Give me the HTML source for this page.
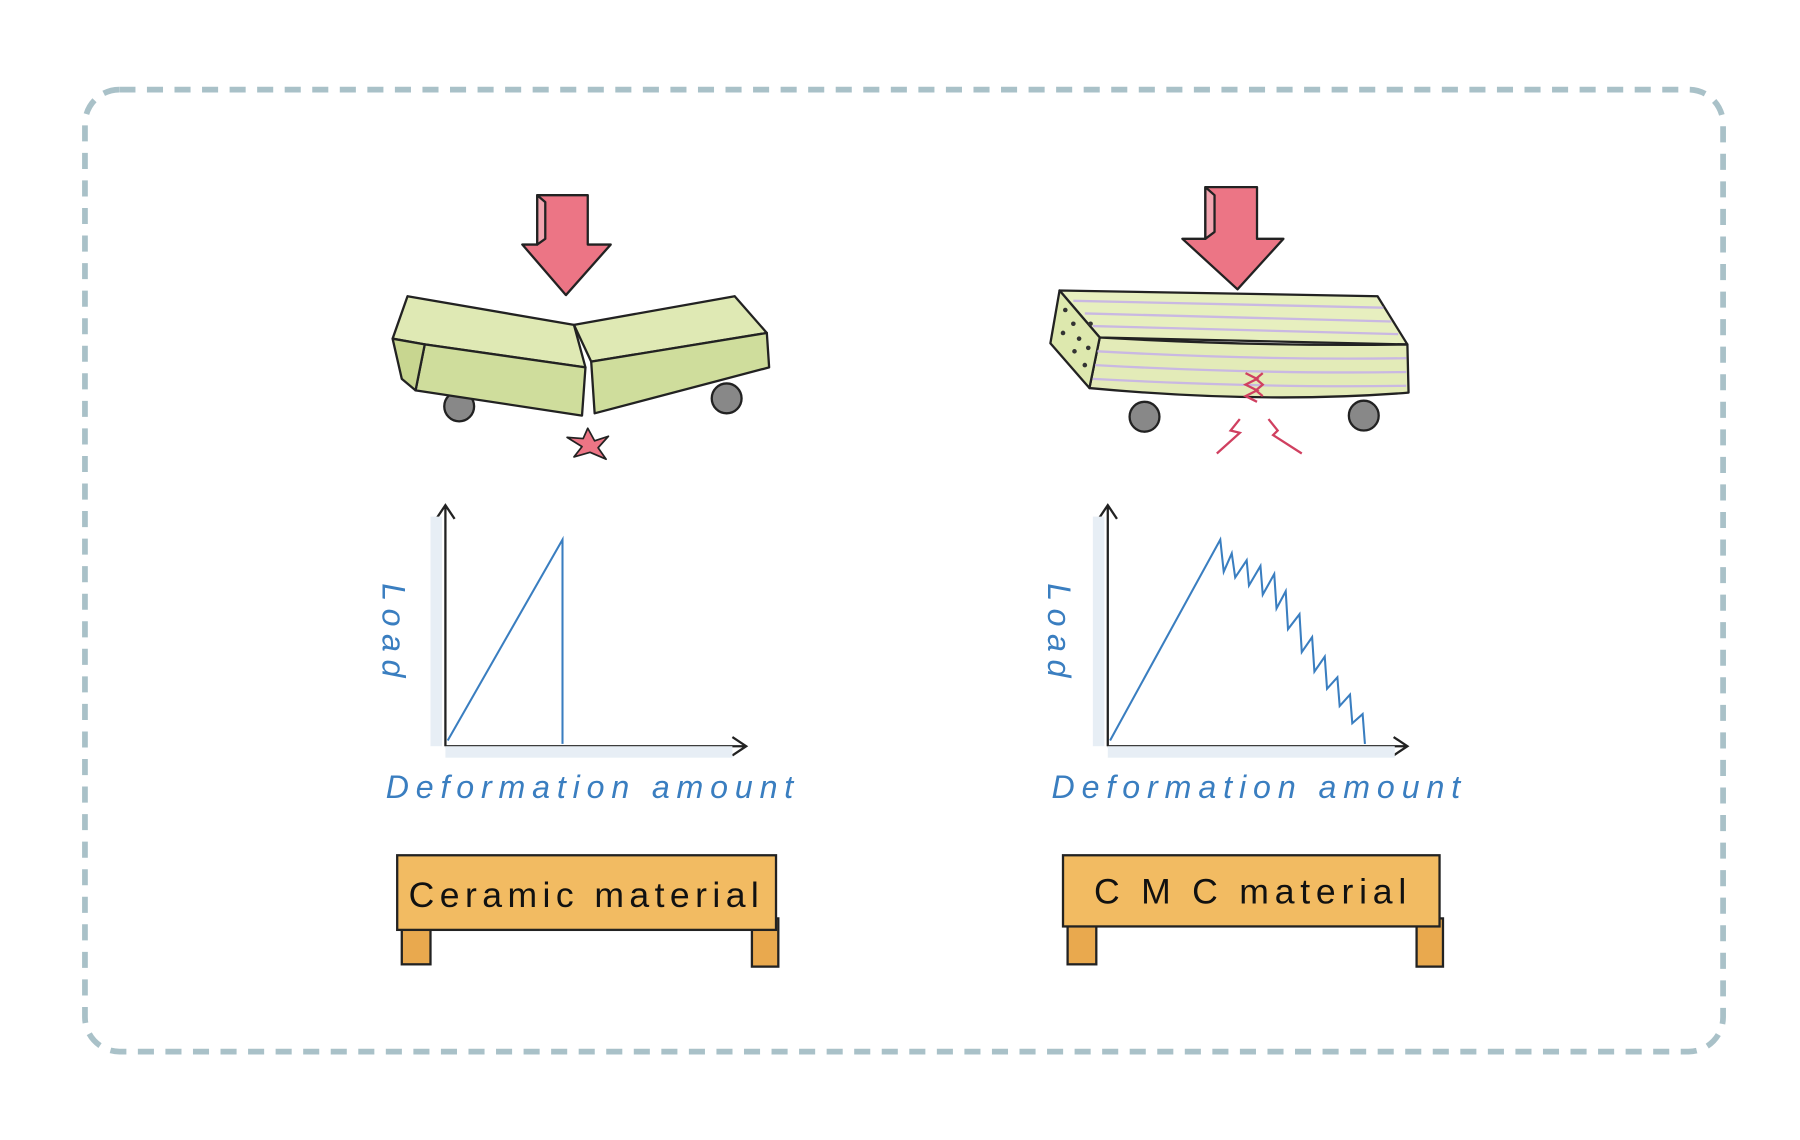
<!DOCTYPE html>
<html><head><style>
html,body{margin:0;padding:0;background:#fff;width:1800px;height:1140px;overflow:hidden}
svg text{font-family:"Liberation Sans",sans-serif}
</style></head><body>
<svg width="1800" height="1140" viewBox="0 0 1568 993" xmlns="http://www.w3.org/2000/svg">
<rect x="74" y="78" width="1427" height="838" rx="30" fill="none" stroke="#a9c1c8" stroke-width="5" stroke-dasharray="14 10"/>
<g stroke="#222" stroke-width="2" stroke-linejoin="round">
<!-- left arrow -->
<polygon points="468,170 512,170 512,213 532,213 493,257 455,213 468,213" fill="#ec7585"/>
<polygon points="468,170 475,176 475,208 468,213" fill="#f2a5b0"/>
<!-- left beam -->
<circle cx="400" cy="354" r="13" fill="#888"/>
<circle cx="633" cy="347" r="13" fill="#888"/>
<polygon points="355,258 500,283 510,320 370,300 342,295" fill="#dfe9b4"/>
<polygon points="370,300 510,320 507,362 362,340" fill="#cfdd9c"/>
<polygon points="342,295 370,300 362,340 350,330" fill="#c8d690"/>
<polygon points="500,283 640,258 668,290 515,315" fill="#dfe9b4"/>
<polygon points="515,315 668,290 670,320 518,360" fill="#cfdd9c"/>
<polygon points="512,373 518,384 530,380 521,390 528,400 514,394 500,398 507,389 494,381 508,382" fill="#ec7585" stroke-width="1.5"/>
<!-- right arrow -->
<polygon points="1050,163 1095,163 1095,208 1118,208 1078,252 1030,208 1050,208" fill="#ec7585"/>
<polygon points="1050,163 1058,170 1058,202 1050,208" fill="#f2a5b0"/>
<!-- right beam -->
<circle cx="997" cy="363" r="13" fill="#888"/>
<circle cx="1188" cy="362" r="13" fill="#888"/>
<polygon points="923,253 1200,258 1226,300 958,294" fill="#e7efbf"/>
<path d="M958,294 Q1100,302 1226,300 L1227,342 Q1100,352 949,338 Z" fill="#e3ebb8"/>
<polygon points="923,253 958,294 949,338 915,299" fill="#dde8ae"/>
</g>
<g stroke="#c9b8e2" stroke-width="2" fill="none">
<path d="M956,306 Q1100,314 1225,312 M954,318 Q1100,326 1225,324 M952,330 Q1100,338 1225,336 M935,262 L1205,268 M945,273 L1212,280 M952,284 L1218,291"/>
</g>
<g fill="#333">
<circle cx="928" cy="270" r="2"/><circle cx="935" cy="282" r="2"/><circle cx="926" cy="290" r="2"/><circle cx="940" cy="295" r="2"/><circle cx="948" cy="303" r="2"/><circle cx="936" cy="306" r="2"/><circle cx="945" cy="318" r="2"/><circle cx="950" cy="282" r="2"/>
</g>
<g fill="none" stroke="#d04060" stroke-width="2">
<path d="M1085,325 l10,5 -10,5 10,5 -10,5 10,5 M1100,325 l-6,5 6,5 -6,5 6,5"/>
<path d="M1080,365 l-8,10 8,2 -20,18 M1105,365 l8,10 -4,4 25,16"/>
</g>
<!-- charts -->
<g stroke="#222" stroke-width="2" fill="none">
<path d="M388,650 V440 M380,452 L388,440 396,452 M388,650 H650 M638,642 L650,650 638,658"/>
<path d="M965,650 V440 M957,452 L965,440 973,452 M965,650 H1226 M1214,642 L1226,650 1214,658"/>
</g>
<rect x="375" y="450" width="10" height="200" fill="#e7eef5"/>
<rect x="388" y="650" width="250" height="10" fill="#e7eef5"/>
<rect x="952" y="450" width="10" height="200" fill="#e7eef5"/>
<rect x="965" y="650" width="250" height="10" fill="#e7eef5"/>
<g stroke="#3a7ec0" stroke-width="1.8" fill="none">
<path d="M390,645 L490,470 L490,648"/>
<path d="M967,645 L1063,470 L1066,498 L1073,482 L1076,503 L1086,488 L1088,510 L1098,493 L1100,518 L1110,500 L1112,530 L1120,515 L1122,548 L1132,535 L1134,568 L1143,555 L1145,585 L1154,572 L1156,600 L1165,590 L1167,615 L1176,605 L1178,630 L1187,622 L1189,648"/>
</g>
<g fill="#3a7ec0" font-size="28" font-style="italic">
<text x="336" y="695" textLength="355">Deformation amount</text>
<text x="916" y="695" textLength="356">Deformation amount</text>
<text transform="translate(333,508) rotate(90)" textLength="82">Load</text>
<text transform="translate(913,508) rotate(90)" textLength="82">Load</text>
</g>
<!-- signs -->
<g stroke="#222" stroke-width="2">
<rect x="350" y="800" width="25" height="40" fill="#e9a94e"/>
<rect x="655" y="800" width="23" height="42" fill="#e9a94e"/>
<rect x="346" y="745" width="330" height="65" fill="#f2bb62"/>
<rect x="930" y="800" width="25" height="40" fill="#e9a94e"/>
<rect x="1234" y="800" width="23" height="42" fill="#e9a94e"/>
<rect x="926" y="745" width="328" height="62" fill="#f2bb62"/>
</g>
<g font-size="31" fill="#111">
<text x="356" y="790" textLength="305">Ceramic material</text>
<text x="953" y="787" textLength="272">C M C  material</text>
</g>
</svg>
</body></html>
